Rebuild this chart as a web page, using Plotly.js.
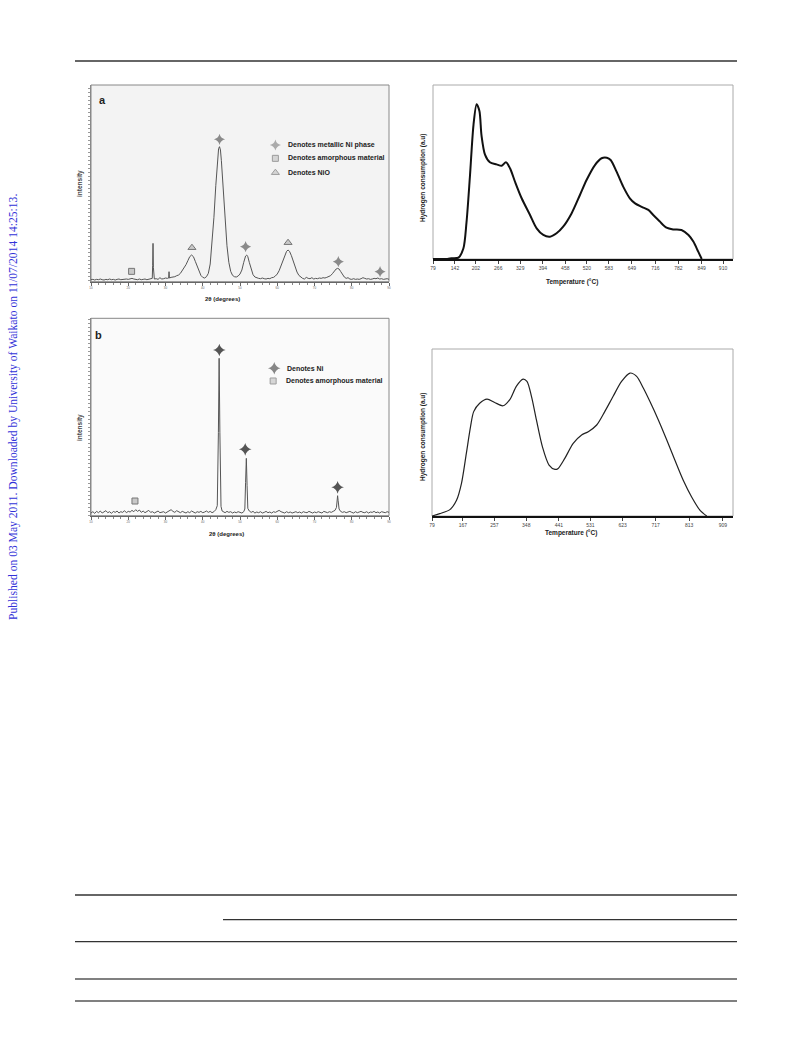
<!DOCTYPE html>
<html>
<head>
<meta charset="utf-8">
<script src="https://cdn.plot.ly/plotly-3.0.1.min.js"></script>
<style>html,body{margin:0;padding:0;background:#fff;}#chart{width:793px;height:1039px;}</style>
</head>
<body>
<div id="chart"></div>
<script>
// ---------- Panel a : XRD (2theta, intensity) ----------
const xrdA_2theta = [10,10.5,11,11.5,12,12.5,13,13.5,14,14.5,15,15.5,16,16.5,17,17.5,18,18.5,19,19.5,20,20.5,21,21.5,22,22.5,23,23.5,24,24.5,25,25.5,26,26.45,26.55,26.65,26.75,26.85,27,27.5,28,28.5,29,29.5,30,30.5,30.85,30.95,31.05,31.5,32,32.5,33,33.5,34,34.5,35,35.5,36,36.5,37,37.5,38,38.5,39,39.5,40,40.5,41,41.5,42,42.5,43,43.5,44,44.25,44.5,44.75,45,45.5,46,46.5,47,47.5,48,48.5,49,49.5,50,50.5,51,51.5,51.8,52.1,52.5,53,53.5,54,54.5,55,55.5,56,56.5,57,57.5,58,58.5,59,59.5,60,60.5,61,61.5,62,62.5,62.9,63.3,63.8,64.3,64.8,65.3,65.8,66.3,66.8,67.3,67.8,68.3,68.8,69.3,69.8,70.3,70.8,71.3,71.8,72.3,72.8,73.3,73.8,74.3,74.8,75.3,75.8,76.2,76.6,77,77.5,78,78.5,79,79.5,80,80.5,81,81.5,82,82.5,83,83.5,84,84.5,85,85.5,86,86.5,87,87.5,88,88.5,89,89.5,90];
const xrdA_int    = [3,4,2,4,3,5,3,2,4,3,5,3,4,2,4,5,3,4,3,5,4,6,7,5,4,3,5,3,4,5,3,4,6,7,45,112,40,7,5,6,4,9,5,6,8,7,8,27,8,10,10,12,15,17,22,30,38,48,60,72,77,72,58,42,28,16,10,8,12,22,50,110,190,285,370,396,402,392,360,275,180,105,55,28,16,12,11,14,20,32,55,74,77,72,55,32,18,11,8,7,6,8,6,5,7,6,9,10,14,20,30,45,62,78,88,92,88,75,58,40,26,16,10,7,5,10,7,6,9,5,7,6,8,7,9,8,10,12,15,21,29,35,37,35,28,18,11,7,9,5,4,6,4,5,4,6,9,7,5,6,4,5,7,6,8,5,6,4,5,6,4];
const aNi_x = [44.5,51.5,76.4,87.6],  aNi_y = [424,102,57,27];
const aNiO_x = [37.1,62.9],           aNiO_y = [99,114];
const aAm_x = [20.9],                 aAm_y = [28];
const aLegSym_x = [59.5,59.5,59.5],   aLegSym_y = [407,367,324];
const aLegText = ['Denotes metallic Ni phase','Denotes amorphous material','Denotes NiO'];

// ---------- Panel b : XRD ----------
const xrdB_2theta = [10,10.5,11,11.5,12,12.5,13,13.5,14,14.5,15,15.5,16,16.5,17,17.5,18,18.5,19,19.5,20,20.5,21,21.5,22,22.5,23,23.5,24,24.5,25,25.5,26,26.5,27,27.5,28,28.5,29,29.5,30,30.5,31,31.5,32,32.5,33,33.5,34,34.5,35,35.5,36,36.5,37,37.5,38,38.5,39,39.5,40,40.5,41,41.5,42,42.5,43,43.5,43.9,44.2,44.4,44.6,44.9,45.2,45.5,46,46.5,47,47.5,48,48.5,49,49.5,50,50.5,51,51.3,51.5,51.7,51.9,52.1,52.5,53,53.5,54,54.5,55,55.5,56,56.5,57,57.5,58,58.5,59,59.5,60,60.5,61,61.5,62,62.5,63,63.5,64,64.5,65,65.5,66,66.5,67,67.5,68,68.5,69,69.5,70,70.5,71,71.5,72,72.5,73,73.5,74,74.5,75,75.5,75.9,76.1,76.2,76.35,76.6,77,77.5,78,78.5,79,79.5,80,80.5,81,81.5,82,82.5,83,83.5,84,84.5,85,85.5,86,86.5,87,87.5,88,88.5,89,89.5,90];
const xrdB_int    = [8,12,7,13,9,14,8,11,15,9,12,7,13,10,14,8,12,10,15,9,13,11,16,12,18,13,17,10,14,9,13,16,10,12,8,11,14,9,10,12,8,11,16,18,13,10,15,12,9,13,10,8,12,9,14,11,8,12,10,13,9,11,14,10,13,9,12,18,30,250,472,250,28,14,12,9,13,10,12,8,11,9,12,10,8,12,20,100,172,90,22,14,10,13,8,11,9,12,8,10,13,9,11,8,12,10,14,16,12,10,8,12,9,11,8,10,12,9,11,8,12,10,9,13,10,8,11,9,12,10,8,13,11,9,12,10,13,16,25,50,60,45,20,13,10,12,9,11,13,10,8,12,9,11,13,10,9,12,8,11,10,13,9,11,8,12,10,9,12,10];
const bNi_x = [44.45,51.4,76.2],      bNi_y = [497,199,85];
const bAm_x = [21.8],                 bAm_y = [44];
const bLegSym_x = [59.2,58.9],        bLegSym_y = [442,404];
const bLegText = ['Denotes Ni','Denotes amorphous material'];

// ---------- TPR top ----------
const tprA_temp = [79,120,132,152,166,175,185,195,204,212,218,228,242,261,276,288,300,314,333,357,376,395,414,433,452,476,500,519,543,562,577,588,605,624,643,658,677,696,710,729,748,767,791,811,825,839,849];
const tprA_h2   = [0,0,0.004,0.008,0.06,0.21,0.48,0.77,0.89,0.85,0.71,0.60,0.556,0.544,0.536,0.556,0.52,0.444,0.349,0.253,0.176,0.138,0.128,0.148,0.186,0.262,0.368,0.454,0.54,0.579,0.582,0.569,0.502,0.416,0.349,0.32,0.30,0.282,0.253,0.215,0.18,0.17,0.167,0.138,0.10,0.042,0];
const tprA_ticks = [79,142,202,266,329,394,458,520,583,649,716,782,849,910];

// ---------- TPR bottom ----------
const tprB_temp = [79,101,130,149,163,177,189,198,215,236,258,282,301,320,339,350,363,377,394,413,430,439,458,482,506,525,549,572,596,620,644,663,682,701,725,749,772,796,820,844,863];
const tprB_h2   = [0,0.014,0.038,0.094,0.194,0.375,0.535,0.625,0.675,0.70,0.68,0.66,0.697,0.778,0.82,0.806,0.715,0.575,0.415,0.305,0.279,0.285,0.345,0.435,0.485,0.505,0.545,0.625,0.717,0.806,0.856,0.836,0.766,0.685,0.575,0.455,0.335,0.214,0.114,0.034,0];
const tprB_ticks = [79,167,257,348,441,531,623,717,813,909];

const W = 793, H = 1039;
const px = v => v / W, py = v => 1 - v / H;
const F = 'Liberation Sans, Arial, sans-serif';

const traces = [
  {x: xrdA_2theta, y: xrdA_int, xaxis:'x', yaxis:'y', mode:'lines', line:{color:'#555', width:1}},
  {x: aNi_x, y: aNi_y, xaxis:'x', yaxis:'y', mode:'markers', marker:{symbol:'star-diamond', size:8, color:'#8a8a8a'}},
  {x: aNiO_x, y: aNiO_y, xaxis:'x', yaxis:'y', mode:'markers', marker:{symbol:'triangle-up', size:7, color:'#c8c8c8', line:{color:'#777', width:1}}},
  {x: aAm_x, y: aAm_y, xaxis:'x', yaxis:'y', mode:'markers', marker:{symbol:'square', size:6, color:'#c8c8c8', line:{color:'#777', width:1}}},
  {x: aLegSym_x, y: aLegSym_y, xaxis:'x', yaxis:'y', mode:'markers', marker:{symbol:['star-diamond','square','triangle-up'], size:[8,6,7], color:['#8a8a8a','#c8c8c8','#c8c8c8'], line:{color:'#777', width:[0,1,1]}}},

  {x: tprA_temp, y: tprA_h2, xaxis:'x2', yaxis:'y2', mode:'lines', line:{color:'#111', width:2, shape:'spline', smoothing:0.8}},

  {x: xrdB_2theta, y: xrdB_int, xaxis:'x3', yaxis:'y3', mode:'lines', line:{color:'#555', width:1}},
  {x: bNi_x, y: bNi_y, xaxis:'x3', yaxis:'y3', mode:'markers', marker:{symbol:'star-diamond', size:9, color:'#555'}},
  {x: bAm_x, y: bAm_y, xaxis:'x3', yaxis:'y3', mode:'markers', marker:{symbol:'square', size:6, color:'#c8c8c8', line:{color:'#777', width:1}}},
  {x: bLegSym_x, y: bLegSym_y, xaxis:'x3', yaxis:'y3', mode:'markers', marker:{symbol:['star-diamond','square'], size:[9,6], color:['#555','#c8c8c8'], line:{color:'#777', width:[0,1]}}},

  {x: tprB_temp, y: tprB_h2, xaxis:'x4', yaxis:'y4', mode:'lines', line:{color:'#222', width:1.2, shape:'spline', smoothing:0.8}}
];

const xrdX = (dom, anc) => ({domain: dom, anchor: anc, range:[10,90], showgrid:false, zeroline:false, showline:true, linecolor:'#666', linewidth:1,
  tickmode:'array', tickvals:[10,20,30,40,50,60,70,80,90], ticks:'outside', ticklen:3, tickcolor:'#666', tickfont:{size:3, color:'#666', family:F},
  minor:{dtick:2, ticks:'outside', ticklen:2, tickcolor:'#888'}, fixedrange:true});
const xrdY = (dom, r, anc) => ({domain: dom, anchor: anc, range:r, showgrid:false, zeroline:false, showline:true, linecolor:'#888', linewidth:1,
  showticklabels:false, ticks:'outside', ticklen:2, tickcolor:'#999', dtick:12, fixedrange:true});
const tprX = (dom, r, tv, anc) => ({domain: dom, anchor: anc, range:r, showgrid:false, zeroline:false, showline:true, linecolor:'#111', linewidth:2,
  tickmode:'array', tickvals:tv, ticks:'outside', ticklen:3, tickcolor:'#444', tickfont:{size:5, color:'#444', family:F}, fixedrange:true});
const tprY = (dom, anc) => ({domain: dom, anchor: anc, range:[0,1], showgrid:false, zeroline:false, showline:false, showticklabels:false, ticks:'', fixedrange:true});

const ann = (o) => Object.assign({showarrow:false, xanchor:'center', yanchor:'middle'}, o);

const layout = {
  width: W, height: H, margin:{l:0,r:0,t:0,b:0}, showlegend:false,
  paper_bgcolor:'#fff', plot_bgcolor:'rgba(0,0,0,0)',
  font:{family:F},
  xaxis:  xrdX([px(91), px(389)], 'y'),
  yaxis:  xrdY([py(281.7), py(85)], [-3,587], 'x'),
  xaxis2: tprX([px(433), px(733)], [79,938.6], tprA_ticks, 'y2'),
  yaxis2: tprY([py(259), py(85)], 'x2'),
  xaxis3: xrdX([px(91), px(389)], 'y3'),
  yaxis3: xrdY([py(515.7), py(318.3)], [0,592], 'x3'),
  xaxis4: tprX([px(432), px(733)], [79,938], tprB_ticks, 'y4'),
  yaxis4: tprY([py(516), py(349)], 'x4'),
  shapes: [
    {type:'rect', xref:'x domain', yref:'y domain', x0:0, x1:1, y0:0, y1:1, line:{color:'#888', width:1}, fillcolor:'#f3f3f3', layer:'below'},
    {type:'rect', xref:'x2 domain', yref:'y2 domain', x0:0, x1:1, y0:0, y1:1, line:{color:'#aaa', width:1}, fillcolor:'rgba(0,0,0,0)', layer:'below'},
    {type:'rect', xref:'x3 domain', yref:'y3 domain', x0:0, x1:1, y0:0, y1:1, line:{color:'#888', width:1}, fillcolor:'#fafafa', layer:'below'},
    {type:'rect', xref:'x4 domain', yref:'y4 domain', x0:0, x1:1, y0:0, y1:1, line:{color:'#aaa', width:1}, fillcolor:'rgba(0,0,0,0)', layer:'below'},
    {type:'line', xref:'paper', yref:'paper', x0:px(75), x1:px(737), y0:py(61), y1:py(61), line:{color:'#333', width:1.5}},
    {type:'line', xref:'paper', yref:'paper', x0:px(75), x1:px(737), y0:py(895), y1:py(895), line:{color:'#333', width:1.3}},
    {type:'line', xref:'paper', yref:'paper', x0:px(223), x1:px(737), y0:py(919.7), y1:py(919.7), line:{color:'#333', width:1.3}},
    {type:'line', xref:'paper', yref:'paper', x0:px(75), x1:px(737), y0:py(941.7), y1:py(941.7), line:{color:'#333', width:1.3}},
    {type:'line', xref:'paper', yref:'paper', x0:px(75), x1:px(737), y0:py(979), y1:py(979), line:{color:'#808080', width:2}},
    {type:'line', xref:'paper', yref:'paper', x0:px(75), x1:px(737), y0:py(1001), y1:py(1001), line:{color:'#808080', width:2}}
  ],
  annotations: [
    ann({xref:'x', yref:'y', x:13.2, y:542, text:'<b>a</b>', font:{size:11, color:'#222', family:F}}),
    ann({xref:'x', yref:'y', x:62.4, y:aLegSym_y[0], text:'<b>'+aLegText[0]+'</b>', xanchor:'left', font:{size:7, color:'#222', family:F}}),
    ann({xref:'x', yref:'y', x:62.4, y:aLegSym_y[1], text:'<b>'+aLegText[1]+'</b>', xanchor:'left', font:{size:7, color:'#222', family:F}}),
    ann({xref:'x', yref:'y', x:62.4, y:aLegSym_y[2], text:'<b>'+aLegText[2]+'</b>', xanchor:'left', font:{size:7, color:'#222', family:F}}),
    ann({xref:'paper', yref:'paper', x:px(222), y:py(299), text:'<b>2θ (degrees)</b>', font:{size:6, color:'#222', family:F}}),
    ann({xref:'paper', yref:'paper', x:px(80), y:py(184), text:'<b>intensity</b>', textangle:-90, font:{size:6.5, color:'#444', family:F}}),

    ann({xref:'paper', yref:'paper', x:px(572), y:py(282), text:'<b>Temperature (°C)</b>', font:{size:6.5, color:'#222', family:F}}),
    ann({xref:'paper', yref:'paper', x:px(423), y:py(178), text:'<b>Hydrogen consumption (a.u)</b>', textangle:-90, font:{size:6.5, color:'#222', family:F}}),

    ann({xref:'x3', yref:'y3', x:12.1, y:542, text:'<b>b</b>', font:{size:11, color:'#222', family:F}}),
    ann({xref:'x3', yref:'y3', x:62.1, y:bLegSym_y[0], text:'<b>'+bLegText[0]+'</b>', xanchor:'left', font:{size:7, color:'#222', family:F}}),
    ann({xref:'x3', yref:'y3', x:61.7, y:bLegSym_y[1], text:'<b>'+bLegText[1]+'</b>', xanchor:'left', font:{size:7, color:'#222', family:F}}),
    ann({xref:'paper', yref:'paper', x:px(226), y:py(534), text:'<b>2θ (degrees)</b>', font:{size:6, color:'#222', family:F}}),
    ann({xref:'paper', yref:'paper', x:px(80), y:py(428), text:'<b>intensity</b>', textangle:-90, font:{size:6.5, color:'#444', family:F}}),

    ann({xref:'paper', yref:'paper', x:px(571), y:py(533), text:'<b>Temperature (°C)</b>', font:{size:6.5, color:'#222', family:F}}),
    ann({xref:'paper', yref:'paper', x:px(423), y:py(437), text:'<b>Hydrogen consumption (a.u)</b>', textangle:-90, font:{size:6.5, color:'#222', family:F}}),

    ann({xref:'paper', yref:'paper', x:px(13), y:py(407), text:'Published on 03 May 2011. Downloaded by University of Waikato on 11/07/2014 14:25:13.', textangle:-90, font:{size:11.6, color:'#3232d8', family:'Liberation Serif, Times New Roman, serif'}})
  ]
};

Plotly.newPlot('chart', traces, layout, {staticPlot:true, displayModeBar:false});
</script>
</body>
</html>
